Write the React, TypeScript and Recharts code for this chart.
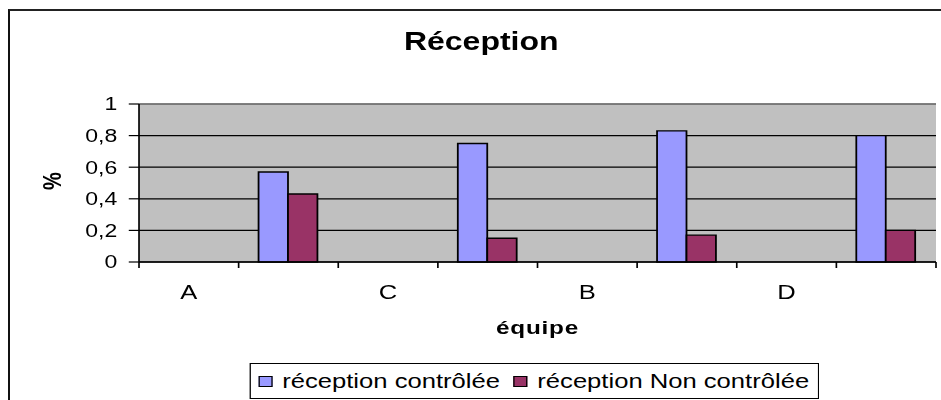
import { BarChart, Bar, XAxis, YAxis, CartesianGrid, ReferenceLine } from 'recharts'

// Excel-style chart, source image is stretched horizontally, so we draw narrow and scale X
const STRETCH = 1.28
const W = 735
const H = 400
const FONT = "'Liberation Sans', Arial, Helvetica, sans-serif"

const categories = ['A', '', 'C', '', 'B', '', 'D', '']
const controlled = [null, 0.57, null, 0.75, null, 0.83, null, 0.8]
const uncontrolled = [null, 0.43, null, 0.15, null, 0.17, null, 0.2]
const yTicks = [0, 0.2, 0.4, 0.6, 0.8, 1]
const seriesNames = ['réception contrôlée', 'réception Non contrôlée']
const seriesColors = ['#9999FF', '#993366']

const data = categories.map((c, i) => ({
  equipe: c,
  ctrl: controlled[i],
  nonCtrl: uncontrolled[i],
}))

const X_TICK_SIZE = 6
const X_TICK_MARGIN = 17

function EquipeTick(props: any) {
  const { x, y, payload, index, visibleTicksCount, width } = props
  const half = payload?.offset ?? width / visibleTicksCount / 2
  const axisY = y - X_TICK_SIZE - X_TICK_MARGIN
  const raw = payload?.value
  const label = typeof raw === 'number' ? categories[raw] : raw
  return (
    <g>
      <line x1={x - half} x2={x - half} y1={axisY} y2={axisY + X_TICK_SIZE} stroke="#000" strokeWidth={1.3} />
      {index === visibleTicksCount - 1 && (
        <line x1={x + half} x2={x + half} y1={axisY} y2={axisY + X_TICK_SIZE} stroke="#000" strokeWidth={1.3} />
      )}
      {label && (
        <text x={x} y={y} dy="0.71em" textAnchor="middle" fontSize={20} fill="#000" fontFamily={FONT}>
          {label}
        </text>
      )}
    </g>
  )
}

function PercentLabel(props: any) {
  const vb = props.viewBox || {}
  const cx = vb.x + 40.6
  const cy = vb.y + vb.height / 2 - 2
  return (
    <text x={cx} y={cy} transform={`rotate(-90, ${cx}, ${cy})`} textAnchor="middle" dominantBaseline="central"
      fontSize={20} fontWeight="bold" fill="#000" fontFamily={FONT}>
      %
    </text>
  )
}

function EquipeLabel(props: any) {
  const vb = props.viewBox || {}
  return (
    <text x={vb.x + vb.width / 2} y={vb.y + 72} textAnchor="middle" fontSize={19} fontWeight="bold"
      fill="#000" fontFamily={FONT} letterSpacing={0.6}>
      équipe
    </text>
  )
}

export default function App() {
  return (
    <div style={{ position: 'absolute', left: 0, top: 0, width: 941, height: 400, overflow: 'hidden', background: '#fff' }}>
      {/* outer chart frame (right and bottom edges fall outside the picture) */}
      <div style={{ position: 'absolute', left: 8, top: 9, width: 1000, height: 500, borderTop: '2px solid #222', borderLeft: '2px solid #111' }} />
      <div style={{ position: 'absolute', left: 0, top: 0, width: W, height: H, transform: `scaleX(${STRETCH})`, transformOrigin: '0 0', fontFamily: FONT }}>
        <div style={{ position: 'absolute', left: 0, top: 29, width: 752, textAlign: 'center', fontSize: 25, lineHeight: '25px', fontWeight: 'bold', color: '#000' }}>
          Réception
        </div>

        <BarChart width={W} height={H} data={data} margin={{ top: 104, right: 3.75, left: 0, bottom: 108 }}
          barCategoryGap="20%" barGap={0} style={{ position: 'absolute', left: 0, top: 0 }}>
          <CartesianGrid vertical={false} stroke="#000" strokeWidth={1.2} fill="#C0C0C0" fillOpacity={1} />
          <ReferenceLine y={1} stroke="#808080" strokeWidth={1.5} />
          <XAxis dataKey="equipe" height={30} interval={0} tickLine={false} tickSize={X_TICK_SIZE} tickMargin={X_TICK_MARGIN}
            axisLine={{ stroke: '#000', strokeWidth: 1.3 }} tick={<EquipeTick />} label={<EquipeLabel />} />
          <YAxis width={108.6} domain={[0, 1]} ticks={yTicks} interval={0} tickSize={8} tickMargin={9}
            axisLine={{ stroke: '#000', strokeWidth: 1.3 }} tickLine={{ stroke: '#000', strokeWidth: 1.2 }}
            tick={{ fontSize: 18, fill: '#000', fontFamily: FONT }}
            tickFormatter={(v: number) => String(v).replace('.', ',')} label={<PercentLabel />} />
          <YAxis yAxisId="right" orientation="right" width={0} domain={[0, 1]} tick={false} tickLine={false}
            axisLine={{ stroke: '#808080', strokeWidth: 1.5 }} />
          <Bar dataKey="ctrl" name={seriesNames[0]} fill={seriesColors[0]} stroke="#000" strokeWidth={1.4} isAnimationActive={false} />
          <Bar dataKey="nonCtrl" name={seriesNames[1]} fill={seriesColors[1]} stroke="#000" strokeWidth={1.4} isAnimationActive={false} />
        </BarChart>

        {/* legend box */}
        <div style={{ position: 'absolute', left: 194.5, top: 363, width: 445, height: 36, boxSizing: 'border-box',
          border: '1.5px solid #000', background: '#fff', display: 'flex', alignItems: 'center', paddingLeft: 6.3 }}>
          {seriesNames.map((n, i) => (
            <div key={n} style={{ display: 'flex', alignItems: 'center', marginRight: i === 0 ? 10.5 : 0 }}>
              <span style={{ display: 'inline-block', width: 11, height: 11, boxSizing: 'border-box', background: seriesColors[i], border: '1px solid #000', marginRight: 7.7 }} />
              <span style={{ fontSize: 20, lineHeight: '20px', color: '#000', whiteSpace: 'nowrap' }}>{n}</span>
            </div>
          ))}
        </div>
      </div>
    </div>
  )
}
